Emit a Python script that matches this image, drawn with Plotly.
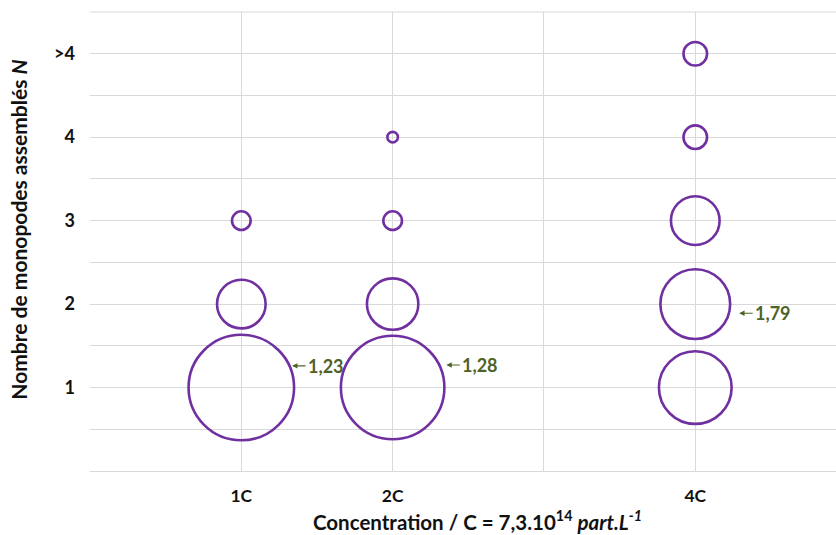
import plotly.graph_objects as go

# ---- data ----
conc_labels = ["1C", "2C", "4C"]
conc_pos = [1, 2, 4]
n_labels = ["1", "2", "3", "4", ">4"]
n_pos = [1, 2, 3, 4, 5]
share_1C = [80, 17, 2.5]            # % of assemblies with N = 1, 2, 3
share_2C = [77, 19, 2.5, 0.8]       # N = 1, 2, 3, 4
share_4C = [38, 35, 17, 4, 4]       # N = 1, 2, 3, 4, >4
mean_labels = ["1,23", "1,28", "1,79"]
mean_label_x = [1.335, 2.355, 4.29]
mean_label_y = [1.26, 1.27, 1.89]

PURPLE = "#7030A0"
GREEN = "#4F6228"
FONT = "Lato"

xs, ys, ss = [], [], []
for cx, shares in zip(conc_pos, [share_1C, share_2C, share_4C]):
    for i, s in enumerate(shares):
        xs.append(cx)
        ys.append(n_pos[i])
        ss.append(s)

max_share = max(ss)
fig = go.Figure()
fig.add_trace(go.Scatter(
    x=xs, y=ys, mode="markers",
    marker=dict(size=ss, sizemode="area", sizeref=2 * max_share / 105.5 ** 2,
                color="rgba(0,0,0,0)", opacity=1,
                line=dict(color=PURPLE, width=2.6)),
    hoverinfo="skip", showlegend=False,
))

for t, x, y in zip(mean_labels, mean_label_x, mean_label_y):
    fig.add_annotation(
        x=x, y=y, xref="x", yref="y", text="<b>" + t + "</b>",
        showarrow=True, ax=34, ay=0, axref="pixel", ayref="pixel",
        arrowhead=2, arrowsize=0.9, arrowwidth=1.2, arrowcolor=GREEN,
        standoff=0, startstandoff=1,
        font=dict(family=FONT, size=18, color=GREEN),
    )

# axis titles as paper annotations for exact placement
fig.add_annotation(
    x=0.519, y=-0.108, xref="paper", yref="paper", showarrow=False,
    xanchor="center", yanchor="middle",
    text="<b>Concentration / C = 7,3.10<sup>14</sup> <i>part.L<sup>-1</sup></i></b>",
    font=dict(family=FONT, size=20.5, color="#111111"),
)
fig.add_annotation(
    x=-0.097, y=0.525, xref="paper", yref="paper", showarrow=False,
    xanchor="center", yanchor="middle", textangle=-90,
    text="<b>Nombre de monopodes assemblés <i>N</i></b>",
    font=dict(family=FONT, size=21, color="#111111"),
)

grid_y = [i * 0.5 for i in range(0, 12)]
fig.update_layout(
    width=836, height=535,
    margin=dict(l=90, r=0, t=12, b=64),
    paper_bgcolor="white", plot_bgcolor="white",
    font=dict(family=FONT, color="#1a1a1a"),
    xaxis=dict(
        range=[0, 4.93], tickmode="array", tickvals=[0, 1, 2, 3, 4],
        ticktext=["", "<b>1C</b>", "<b>2C</b>", "", "<b>4C</b>"],
        showgrid=True, gridcolor="#d9d9d9", gridwidth=1,
        zeroline=False, showline=True, linecolor="#d9d9d9", linewidth=1,
        tickfont=dict(family=FONT, size=17.5, color="#111111"),
        ticklabelstandoff=9, automargin=False,
    ),
    yaxis=dict(
        range=[0, 5.5], tickmode="array", tickvals=grid_y,
        ticktext=["<b>" + n_labels[n_pos.index(v)] + "</b>" if v in n_pos else "" for v in grid_y],
        showgrid=True, gridcolor="#d9d9d9", gridwidth=1,
        zeroline=False, showline=False,
        tickfont=dict(family=FONT, size=18, color="#111111"),
        ticklabelstandoff=14, automargin=False,
    ),
)
fig.add_shape(type="line", xref="paper", yref="paper", x0=0, x1=1, y0=1, y1=1,
              line=dict(color="#d9d9d9", width=1))

fig.write_html("out.html", config={"displayModeBar": False},
               post_script="document.body.style.margin='0';document.body.style.padding='0';")
